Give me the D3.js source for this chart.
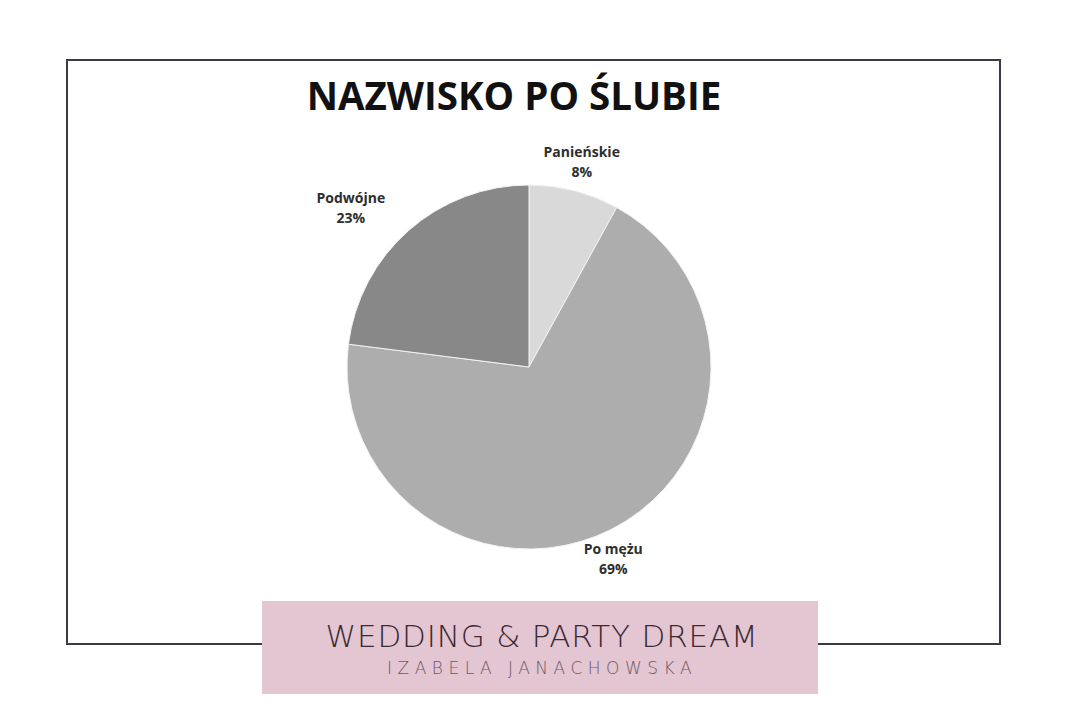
<!DOCTYPE html>
<html lang="pl">
<head>
<meta charset="UTF-8">
<title>Nazwisko po ślubie</title>
<script src="https://d3js.org/d3.v7.min.js"></script>
<style>
  html, body { margin: 0; padding: 0; background: #fff; }
  svg { display: block; }
</style>
</head>
<body>
<svg id="chart" width="1080" height="720"></svg>
<script>
// data
const categories = ["Panieńskie", "Po mężu", "Podwójne"];
const shares = [8, 69, 23];
const sliceColors = ["#d9d9d9", "#adadad", "#888888"];

// small hand nudges for the "best fit" labels (like the office chart did)
const labelNudge = { "Panieńskie": [0, 0], "Po mężu": [-12, 3], "Podwójne": [-38, 0] };

const svg = d3.select("#chart");
const font = "'Open Sans', 'Noto Sans', sans-serif";

// outer frame
svg.append("rect")
  .attr("x", 67).attr("y", 60)
  .attr("width", 933).attr("height", 584)
  .attr("fill", "#fff")
  .attr("stroke", "#3b3b44")
  .attr("stroke-width", 2);

// title
svg.append("text")
  .attr("x", 514).attr("y", 110)
  .attr("text-anchor", "middle")
  .style("font-family", font)
  .style("font-weight", 700)
  .style("font-size", "38.5px")
  .attr("fill", "#111")
  .text("NAZWISKO PO ŚLUBIE");

// pie
const cx = 529, cy = 367, r = 182;
const data = categories.map((c, i) => ({ name: c, value: shares[i], color: sliceColors[i] }));

const pie = d3.pie().value(d => d.value).sort(null);
const arc = d3.arc().innerRadius(0).outerRadius(r);
const labelArc = d3.arc().innerRadius(212).outerRadius(212);

const g = svg.append("g").attr("transform", `translate(${cx},${cy})`);
const arcs = pie(data);

g.selectAll("path").data(arcs).enter().append("path")
  .attr("d", arc)
  .attr("fill", d => d.data.color)
  .attr("stroke", "#f2f2f2")
  .attr("stroke-width", 1);

const lbl = g.selectAll("g.lbl").data(arcs).enter().append("g")
  .attr("class", "lbl")
  .attr("transform", d => {
    const p = labelArc.centroid(d);
    const n = labelNudge[d.data.name] || [0, 0];
    return `translate(${p[0] + n[0]},${p[1] + n[1]})`;
  });

lbl.append("text")
  .attr("text-anchor", "middle")
  .attr("y", -5)
  .style("font-family", font)
  .style("font-weight", 700)
  .style("font-size", "14px")
  .attr("fill", "#2e2e2e")
  .text(d => d.data.name);

lbl.append("text")
  .attr("text-anchor", "middle")
  .attr("y", 15)
  .style("font-family", font)
  .style("font-weight", 700)
  .style("font-size", "14px")
  .attr("fill", "#2e2e2e")
  .text(d => d.data.value + "%");

// watermark banner
svg.append("rect")
  .attr("x", 262).attr("y", 601)
  .attr("width", 556).attr("height", 93)
  .attr("fill", "#e4c5d2");

svg.append("text")
  .attr("x", 542).attr("y", 647)
  .attr("text-anchor", "middle")
  .style("font-family", "'DejaVu Sans', sans-serif")
  .style("font-weight", 200)
  .style("font-size", "31px")
  .style("letter-spacing", "0.8px")
  .attr("fill", "#3a2a32")
  .text("WEDDING & PARTY DREAM");

svg.append("text")
  .attr("x", 542).attr("y", 674)
  .attr("text-anchor", "middle")
  .style("font-family", "'DejaVu Sans', sans-serif")
  .style("font-weight", 200)
  .style("font-size", "17px")
  .style("letter-spacing", "5.5px")
  .attr("fill", "#6b5a62")
  .text("IZABELA JANACHOWSKA");
</script>
</body>
</html>
